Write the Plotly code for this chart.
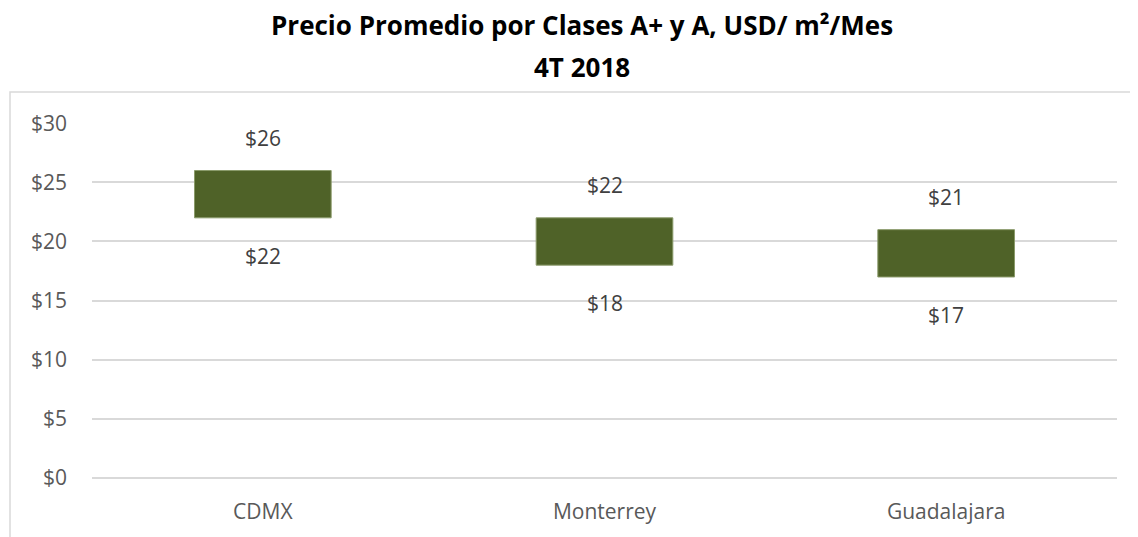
import plotly.graph_objects as go

categories = ["CDMX", "Monterrey", "Guadalajara"]
low_values = [22, 18, 17]
high_values = [26, 22, 21]
tick_values = [0, 5, 10, 15, 20, 25, 30]
tick_labels = ["$0", "$5", "$10", "$15", "$20", "$25", "$30"]

FONT = "'Open Sans', Lato, sans-serif"
TITLE_FONT = "'Open Sans', sans-serif"

fig = go.Figure()
fig.add_trace(go.Bar(
    x=categories,
    y=[h - l for h, l in zip(high_values, low_values)],
    base=low_values,
    width=0.4,
    marker=dict(color="#4F6228", line=dict(color="#8A9A6A", width=1)),
    hoverinfo="skip",
))

annotations = []
for c, h, l in zip(categories, high_values, low_values):
    annotations.append(dict(x=c, y=h, text=f"${h}", showarrow=False,
                            yshift=33, yanchor="middle",
                            font=dict(family=FONT, size=21, color="#404040")))
    annotations.append(dict(x=c, y=l, text=f"${l}", showarrow=False,
                            yshift=-38, yanchor="middle",
                            font=dict(family=FONT, size=21, color="#404040")))

annotations.append(dict(xref="paper", yref="paper", x=0.478, y=1.0,
                        yshift=98, xanchor="center", yanchor="middle",
                        text="<b>Precio Promedio por Clases A+ y A, USD/ m²/Mes</b>",
                        showarrow=False,
                        font=dict(family=TITLE_FONT, size=26, color="#000000")))
annotations.append(dict(xref="paper", yref="paper", x=0.478, y=1.0,
                        yshift=56, xanchor="center", yanchor="middle",
                        text="<b>4T 2018</b>", showarrow=False,
                        font=dict(family=TITLE_FONT, size=26, color="#000000")))

fig.update_layout(
    width=1130, height=529,
    margin=dict(l=84, r=21, t=115, b=59),
    paper_bgcolor="white", plot_bgcolor="white",
    showlegend=False,
    annotations=annotations,
    shapes=[dict(type="rect", xref="paper", yref="paper",
                 x0=(2 - 84) / 1025, x1=1.2, y0=-0.3, y1=(470 - 84) / 355,
                 line=dict(color="#D9D9D9", width=1.5), layer="below")],
    xaxis=dict(showgrid=False, showline=False, zeroline=False,
               tickfont=dict(family=FONT, size=21, color="#595959"),
               ticklabelstandoff=19),
    yaxis=dict(range=[0, 30.02], tickvals=tick_values, ticktext=tick_labels,
               showgrid=True, gridcolor="#D9D9D9", gridwidth=1.5,
               zeroline=True, zerolinecolor="#D9D9D9", zerolinewidth=1.5,
               showline=False,
               tickfont=dict(family=FONT, size=21, color="#595959"),
               ticklabelstandoff=24),
)

fig.write_html("out.html")
